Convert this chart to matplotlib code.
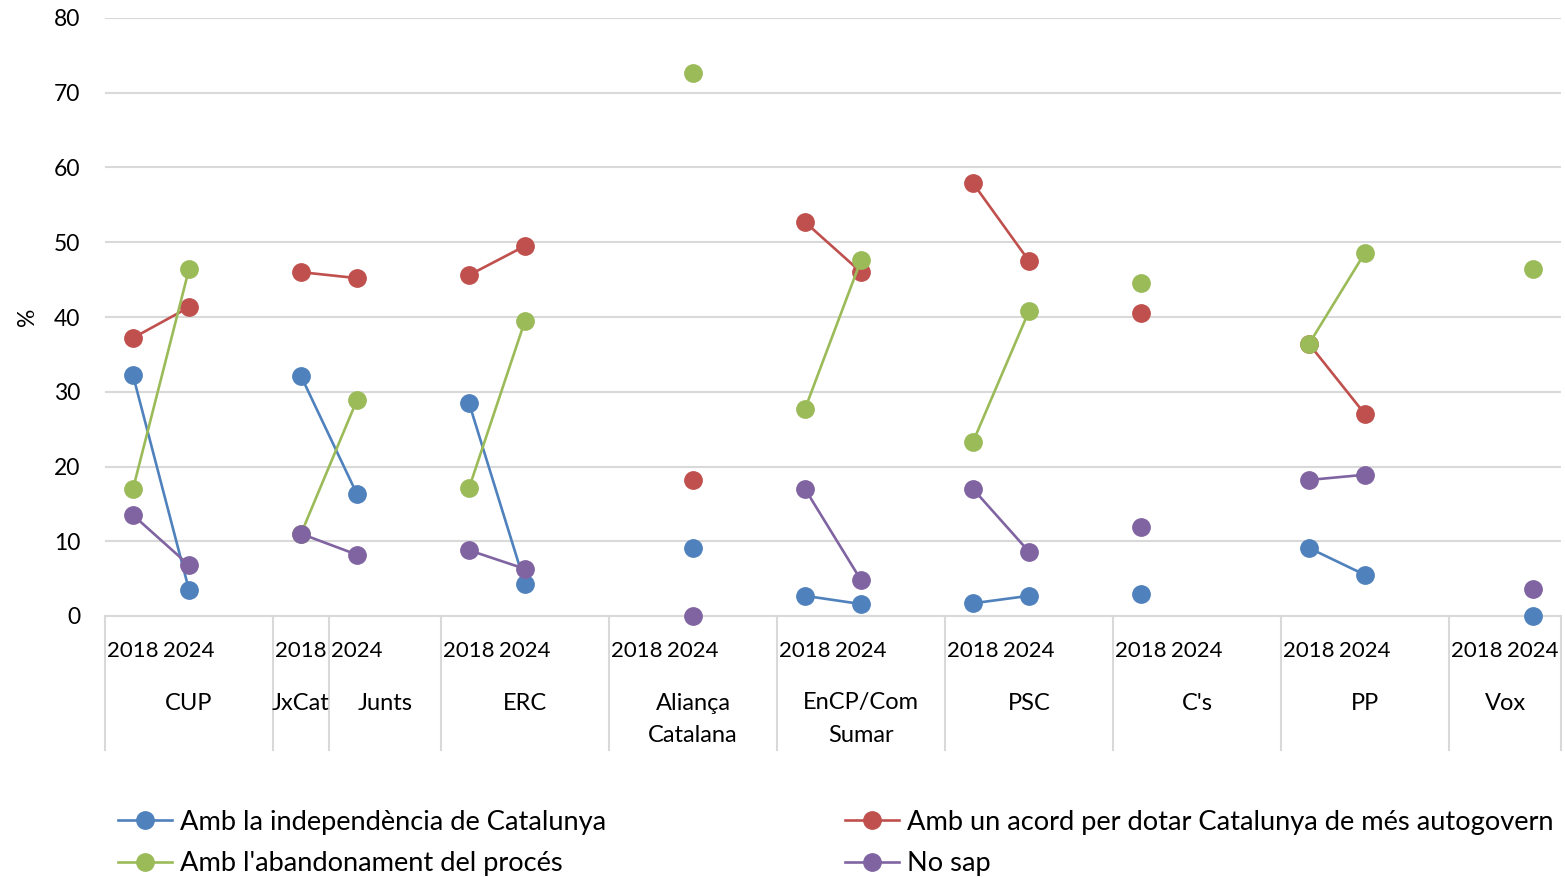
import numpy as np
import matplotlib
matplotlib.use("Agg")
import matplotlib.pyplot as plt
from matplotlib.lines import Line2D
from matplotlib.transforms import blended_transform_factory

nan = np.nan

# ---------------- data ----------------
years = ["2018", "2024"]
# each group: two slots (2018, 2024); party labels per group (JxCat/Junts split)
group_labels = [["CUP"], ["JxCat", "Junts"], ["ERC"], ["Aliança\nCatalana"],
                ["EnCP/Com\nSumar"], ["PSC"], ["C's"], ["PP"], ["Vox"]]

# values ordered group by group: [g0-2018, g0-2024, g1-2018, g1-2024, ...]
independencia = [32.2, 3.5, 32.1, 16.3, 28.5, 4.3, nan, 9.1, 2.7, 1.6,
                 1.7, 2.7, 2.9, nan, 9.1, 5.5, nan, 0.0]
acord = [37.2, 41.3, 46.0, 45.2, 45.6, 49.5, nan, 18.2, 52.7, 46.0,
         57.9, 47.5, 40.5, nan, 36.4, 27.0, nan, nan]
abandonament = [17.0, 46.4, 11.0, 28.9, 17.1, 39.5, nan, 72.6, 27.7, 47.6,
                23.3, 40.8, 44.5, nan, 36.4, 48.6, nan, 46.4]
no_sap = [13.5, 6.8, 11.0, 8.2, 8.8, 6.3, nan, 0.0, 17.0, 4.8,
          17.0, 8.6, 11.9, nan, 18.2, 18.9, nan, 3.6]

series_names = ["Amb la independència de Catalunya",
                "Amb un acord per dotar Catalunya de més autogovern",
                "Amb l'abandonament del procés",
                "No sap"]
series_values = [independencia, acord, abandonament, no_sap]
colors = ["#4F81BD", "#C0504D", "#9BBB59", "#8064A2"]

yticks = [0, 10, 20, 30, 40, 50, 60, 70, 80]
ylabel = "%"

# ---------------- layout ----------------
FONT = "Lato"
plt.rcParams["font.family"] = [FONT, "DejaVu Sans"]

W, H = 1565, 877
fig = plt.figure(figsize=(W / 100, H / 100), dpi=100)
ax_l, ax_r, ax_t, ax_b = 105, 1561, 18, 616
ax = fig.add_axes([ax_l / W, 1 - ax_b / H, (ax_r - ax_l) / W, (ax_b - ax_t) / H])

n_groups = len(group_labels)
n_slots = n_groups * 3 - 1
xs = np.array([3 * g + k for g in range(n_groups) for k in range(2)], dtype=float)

def with_gaps(vals):
    full = np.full(n_slots, nan)
    full[xs.astype(int)] = vals
    return full

xfull = np.arange(n_slots)
for name, vals, c in zip(series_names, series_values, colors):
    ax.plot(xfull, with_gaps(vals), color=c, lw=1.9, marker="o", ms=12.5,
            markeredgecolor=c, label=name, zorder=3, clip_on=False)

ax.set_xlim(-0.5, n_slots - 0.5)
ax.set_ylim(0, 80)
ax.set_yticks(yticks)
ax.set_yticklabels([str(t) for t in yticks], fontsize=16.5)
ax.tick_params(axis="y", length=0, pad=18)
ax.set_xticks([])
ax.grid(axis="y", color="#D9D9D9", lw=1.5)
ax.set_axisbelow(True)
for s in ["top", "right", "left"]:
    ax.spines[s].set_visible(False)
ax.spines["bottom"].set_color("#D9D9D9")
ax.spines["bottom"].set_linewidth(1.5)

ax.set_ylabel(ylabel, fontsize=16.5)
ax.yaxis.set_label_coords(-(105 - 38) / (ax_r - ax_l), 0.5)

# category axis labels
tr = blended_transform_factory(ax.transData, ax.transAxes)
ph = ax_b - ax_t
def ay(py):
    return -(py - ax_b) / ph

for x, yr in zip(xs, years * n_groups):
    ax.text(x, ay(651), yr, transform=tr, ha="center", va="center", fontsize=16)

x_max = n_slots - 0.5
div_x = []
for g, labs in enumerate(group_labels):
    start = 3 * g - 0.5
    end = min(start + 3, x_max)
    div_x.append(start)
    if len(labs) == 1:
        centers = [(start + end) / 2]
    else:
        centers = [3 * g, (3 * g + 0.5 + end) / 2]
        div_x.append(3 * g + 0.5)
    for cx, lab in zip(centers, labs):
        for i, line in enumerate(lab.split("\n")):
            ax.text(cx, ay(703 + 32 * i), line, transform=tr, ha="center",
                    va="center", fontsize=17)
div_x.append(x_max)
for dx in div_x:
    ax.plot([dx, dx], [0, ay(750)], transform=tr, color="#D9D9D9", lw=1.5,
            clip_on=False)

# legend (two columns, placed separately)
handles = [Line2D([], [], color=c, lw=1.9, marker="o", ms=12.5) for c in colors]
leg_kw = dict(frameon=False, fontsize=19.6, handlelength=1.97, handletextpad=0.3,
              labelspacing=0.6, borderaxespad=0, borderpad=0)
leg1 = fig.legend([handles[0], handles[2]], [series_names[0], series_names[2]],
                  loc="upper left", bbox_to_anchor=(118 / W, 1 - 810 / H), **leg_kw)
leg2 = fig.legend([handles[1], handles[3]], [series_names[1], series_names[3]],
                  loc="upper left", bbox_to_anchor=(845 / W, 1 - 810 / H), **leg_kw)

fig.savefig("out.png", dpi=100)
